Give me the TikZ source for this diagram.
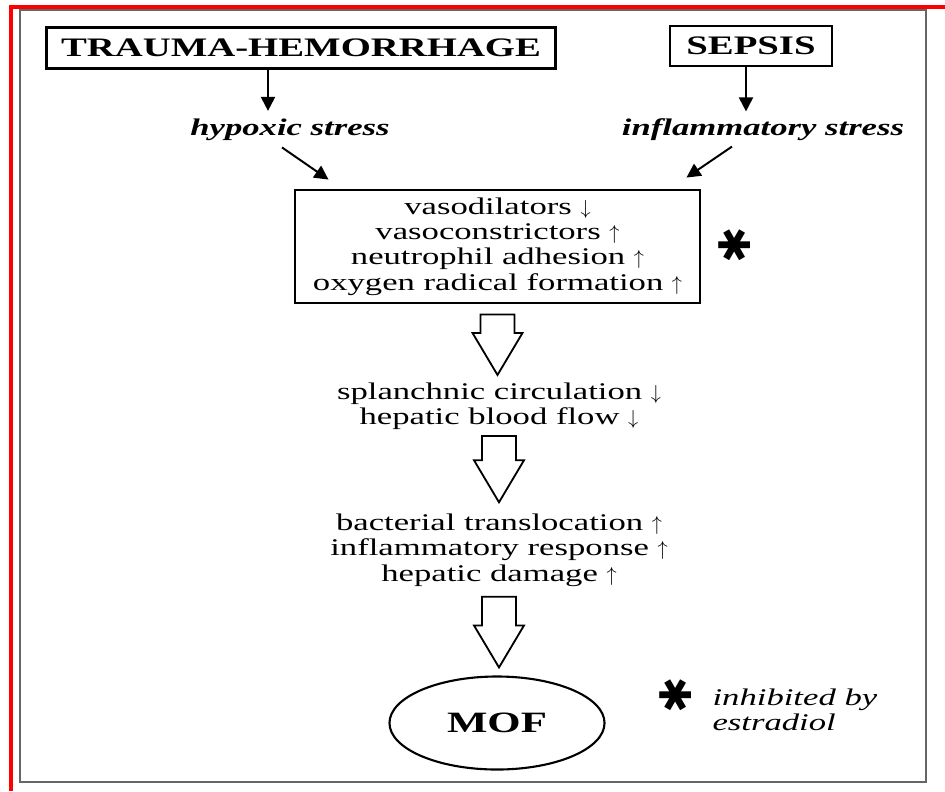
\documentclass[tikz,border=0pt]{standalone}
\usepackage{fontspec}
\setmainfont{Liberation Serif}[FakeStretch=1.45]
\newfontfamily\starfont{DejaVu Sans}
\usepackage{tikz}
\usetikzlibrary{calc}
\usetikzlibrary{arrows.meta,shapes.geometric}
\newcommand{\arrup}{{\fontsize{15}{18}\selectfont$\uparrow$}}
\newcommand{\arrdn}{{\fontsize{15}{18}\selectfont$\downarrow$}}

\begin{document}
\begin{tikzpicture}[x=0.025cm, y=-0.025cm, thick, color=black,
		box/.style={draw, line width=2pt, inner sep=0pt, align=center},
		txt/.style={inner sep=0pt, align=center},
		arr/.style={line width=1.4pt, -{Triangle[length=10pt, width=10pt]}},
		hollow/.style={line width=1.3pt, fill=white, line join=miter},
		starmark/.style={inner sep=0pt, rotate=90, font=\fontsize{31}{31}\starfont}]
	\useasboundingbox (0,0) rectangle (945,791);
	\draw[red, line width=2.2pt] (945,7) -- (11,7) -- (11,791);
	\draw[black!60, line width=1.3pt] (20,10) rectangle (926,782);

	\begin{scope}[font=\fontsize{17}{18}\selectfont]
		\node (trauma) at (301,48) [box, minimum width=12.725cm, minimum height=1.025cm, font=\fontsize{19}{20}\selectfont\bfseries] {TRAUMA-HEMORRHAGE};
		\node (sepsis) at (751,46) [box, minimum width=4.05cm, minimum height=1cm, font=\fontsize{19}{20}\selectfont\bfseries] {SEPSIS};
		\node (hypoxic) at (290,130) [txt, font=\fontsize{17}{18}\selectfont\bfseries\itshape] {hypoxic stress};
		\node (inflam) at (763,130) [txt, font=\fontsize{17}{18}\selectfont\bfseries\itshape] {inflammatory stress};
		\node (vaso) at (497.5,246.5) [box, minimum width=10.125cm, minimum height=2.825cm] {vasodilators \arrdn\\vasoconstrictors \arrup\\neutrophil adhesion \arrup\\oxygen radical formation \arrup};
		\node (star) at (735,245) [starmark] {✱};
		\node (splanch) at (499,406) [txt] {splanchnic circulation \arrdn\\hepatic blood flow \arrdn};
		\node (bact) at (499,550) [txt] {bacterial translocation \arrup\\inflammatory response \arrup\\hepatic damage \arrup};
		\node (mof) at (497,723) [ellipse, draw, line width=1.5pt, minimum width=5.375cm, minimum height=2.325cm, font=\fontsize{21}{22}\selectfont\bfseries] {MOF};
		\node (starnote) at (676,695) [starmark] {✱};
		\node (note) at (712,710) [txt, anchor=west, align=left, font=\fontsize{17}{18}\selectfont\itshape] {inhibited by\\estradiol};
	\end{scope}

	\draw[arr] ($(trauma.south)+(-33,0)$) -- ($(trauma.south)+(-33,41)$);
	\draw[arr] ($(sepsis.south)+(-5,0)$) -- ($(sepsis.south)+(-5,44)$);
	\draw[arr] ($(hypoxic.south)+(-8,6)$) -- ($(vaso.north west)+(35,-9)$);
	\draw[arr] ($(inflam.south)+(-31,5)$) -- ($(vaso.north east)+(-15,-11)$);

	\foreach \a/\b/\s/\e in {vaso/splanch/10/7, splanch/bact/6/11, bact/mof/10/8} {
		\coordinate (top) at ($(\a.south)+(0,\s)$);
		\coordinate (tip) at ($(\a.south |- \b.north)+(0,-\e)$);
		\draw[hollow] ($(top)+(-17,0)$) -- ($(top)+(17,0)$) -- ($(tip)+(17,-42)$) -- ($(tip)+(25,-42)$)
			-- (tip) -- ($(tip)+(-25,-42)$) -- ($(tip)+(-17,-42)$) -- cycle;
	}
\end{tikzpicture}
\end{document}
